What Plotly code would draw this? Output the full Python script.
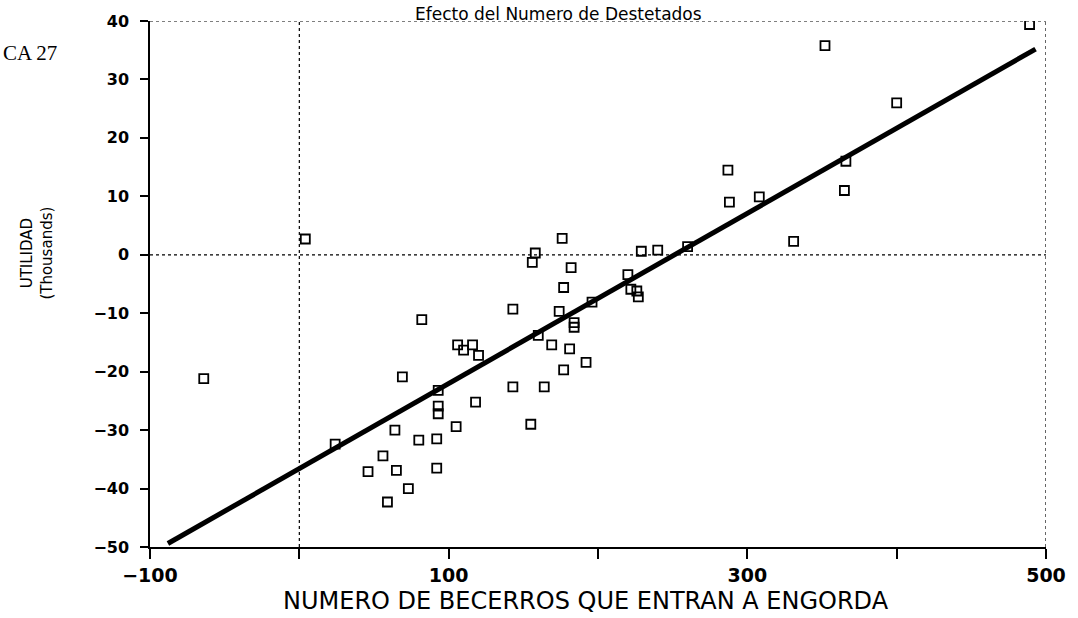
import plotly.graph_objects as go

# ---- data ----
becerros = [-64, 4, 24, 46, 56, 59, 64, 65, 69, 73, 80, 82, 92, 92, 93, 93, 93,
            105, 106, 110, 116, 118, 120, 143, 143, 155, 156, 158, 160, 164, 169,
            174, 176, 177, 177, 181, 182, 184, 184, 192, 196, 220, 222, 226, 227,
            229, 240, 260, 287, 288, 308, 331, 352, 365, 366, 400, 489]
utilidad = [-21.2, 2.7, -32.4, -37.1, -34.4, -42.3, -30.0, -36.9, -20.9, -40.0,
            -31.7, -11.1, -31.5, -36.5, -23.2, -25.9, -27.2, -29.4, -15.4, -16.3,
            -15.4, -25.2, -17.2, -9.3, -22.6, -29.0, -1.3, 0.3, -13.8, -22.6, -15.4,
            -9.7, 2.8, -5.6, -19.7, -16.1, -2.2, -11.6, -12.4, -18.4, -8.1, -3.4,
            -5.9, -6.2, -7.2, 0.6, 0.8, 1.4, 14.5, 9.0, 9.9, 2.3, 35.8, 11.0, 16.0,
            26.0, 39.4]
tendencia_x = [-88, 493]
tendencia_y = [-49.4, 35.2]

x_tickvals = [-100, 0, 100, 200, 300, 400, 500]
x_ticktext = ["\u2212100", "", "100", "", "300", "", "500"]
y_tickvals = [40, 30, 20, 10, 0, -10, -20, -30, -40, -50]
y_ticktext = ["40", "30", "20", "10", "0", "\u221210", "\u221220", "\u221230", "\u221240", "\u221250"]

titulo = "Efecto del Numero de Destetados"
etiqueta_x = "NUMERO DE BECERROS QUE ENTRAN A ENGORDA"
etiqueta_y = "UTILIDAD<br>(Thousands)"
grafica = "CA 27"

FONT = "DejaVu Sans"

fig = go.Figure()
fig.add_trace(go.Scatter(
    x=tendencia_x, y=tendencia_y, mode="lines",
    line=dict(color="black", width=5), hoverinfo="skip", showlegend=False))
fig.add_trace(go.Scatter(
    x=becerros, y=utilidad, mode="markers",
    marker=dict(symbol="square-open", size=9, color="black",
                line=dict(color="black", width=1.8)),
    showlegend=False))

# dotted reference lines and frame
dot = dict(color="black", width=1.2, dash="dot")
fig.add_shape(type="line", xref="x", yref="y", x0=0, x1=0, y0=-50, y1=40, line=dot, layer="below")
fig.add_shape(type="line", xref="x", yref="y", x0=-100, x1=500, y0=0, y1=0, line=dot, layer="below")
fig.add_shape(type="line", xref="x", yref="y", x0=-100, x1=500, y0=40, y1=40, line=dot, layer="below")
fig.add_shape(type="line", xref="x", yref="y", x0=500, x1=500, y0=-50, y1=40, line=dot, layer="below")

fig.add_annotation(text=titulo, xref="paper", yref="paper", x=0.4556, y=1.0,
                   yshift=19, yanchor="top", showarrow=False,
                   font=dict(family=FONT, size=17, color="black"))
fig.add_annotation(text=grafica, xref="paper", yref="paper", x=-0.1667, y=0.94,
                   xanchor="left", yanchor="middle", showarrow=False,
                   font=dict(family="Liberation Serif", size=21, color="black"))
fig.add_annotation(text=etiqueta_x, xref="paper", yref="paper", x=0.4867, y=-0.1023,
                   xanchor="center", yanchor="middle", showarrow=False,
                   font=dict(family=FONT, size=24, color="black"))
fig.add_annotation(text=etiqueta_y, xref="paper", yref="paper", x=-0.1256, y=0.5587,
                   xanchor="center", yanchor="middle", textangle=-90, showarrow=False,
                   font=dict(family=FONT, size=15, color="black"))

fig.update_layout(
    width=1078, height=618,
    margin=dict(l=150, r=28, t=19, b=71),
    paper_bgcolor="white", plot_bgcolor="white",
    xaxis=dict(range=[-100, 500], showgrid=False, zeroline=False,
               showline=True, linecolor="black", linewidth=2,
               ticks="outside", ticklen=10, tickwidth=2, tickcolor="black",
               tickvals=x_tickvals, ticktext=x_ticktext,
               tickfont=dict(family=FONT, size=19, color="black", weight="bold")),
    yaxis=dict(range=[-50, 40], showgrid=False, zeroline=False,
               showline=True, linecolor="black", linewidth=1.5,
               ticks="outside", ticklen=8, tickwidth=2, tickcolor="black",
               tickvals=y_tickvals, ticktext=y_ticktext,
               ticklabelstandoff=8,
               tickfont=dict(family=FONT, size=16, color="black", weight="bold")),
)

fig.write_html("out.html")
